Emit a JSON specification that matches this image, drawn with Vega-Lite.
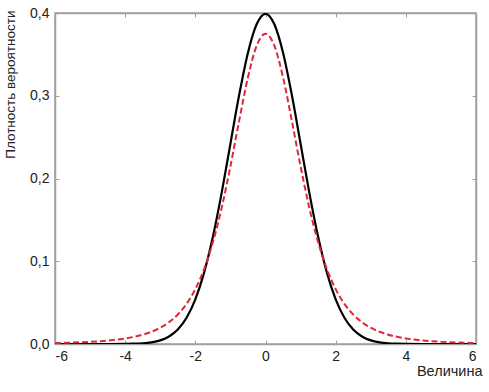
{
  "$schema": "https://vega.github.io/schema/vega-lite/v6.json",
  "autosize": {"type": "none"},
  "width": 421,
  "height": 331,
  "padding": {"left": 55, "top": 13, "right": 13, "bottom": 48},
  "background": "white",
  "config": {
    "view": {"stroke": "#a0a0a0", "strokeWidth": 1.5},
    "font": "Liberation Sans",
    "axis": {
      "grid": false,
      "domainColor": "#a0a0a0",
      "domainWidth": 1.5,
      "tickColor": "#a0a0a0",
      "tickSize": -4,
      "labelFont": "Liberation Sans",
      "labelFontSize": 14,
      "labelColor": "#222222",
      "titleFont": "Liberation Sans",
      "titleFontWeight": "normal",
      "titleColor": "#222222"
    }
  },
  "data": {"values": [
    {"x": -6, "n": 0.0, "t": 0.00119},
    {"x": -5.5, "n": 0.0, "t": 0.00175},
    {"x": -5, "n": 0.0000015, "t": 0.00265},
    {"x": -4.5, "n": 0.000016, "t": 0.00415},
    {"x": -4, "n": 0.000134, "t": 0.00671},
    {"x": -3.75, "n": 0.000353, "t": 0.00865},
    {"x": -3.5, "n": 0.000873, "t": 0.01128},
    {"x": -3.25, "n": 0.00203, "t": 0.01483},
    {"x": -3, "n": 0.00443, "t": 0.01969},
    {"x": -2.75, "n": 0.00909, "t": 0.02639},
    {"x": -2.5, "n": 0.01753, "t": 0.03567},
    {"x": -2.25, "n": 0.03174, "t": 0.04854},
    {"x": -2, "n": 0.05399, "t": 0.06629},
    {"x": -1.75, "n": 0.08628, "t": 0.09053},
    {"x": -1.5, "n": 0.12952, "t": 0.12288},
    {"x": -1.25, "n": 0.18265, "t": 0.16445},
    {"x": -1, "n": 0.24197, "t": 0.21466},
    {"x": -0.75, "n": 0.30114, "t": 0.26989},
    {"x": -0.5, "n": 0.35207, "t": 0.32226},
    {"x": -0.25, "n": 0.38667, "t": 0.36074},
    {"x": 0, "n": 0.39894, "t": 0.375},
    {"x": 0.25, "n": 0.38667, "t": 0.36074},
    {"x": 0.5, "n": 0.35207, "t": 0.32226},
    {"x": 0.75, "n": 0.30114, "t": 0.26989},
    {"x": 1, "n": 0.24197, "t": 0.21466},
    {"x": 1.25, "n": 0.18265, "t": 0.16445},
    {"x": 1.5, "n": 0.12952, "t": 0.12288},
    {"x": 1.75, "n": 0.08628, "t": 0.09053},
    {"x": 2, "n": 0.05399, "t": 0.06629},
    {"x": 2.25, "n": 0.03174, "t": 0.04854},
    {"x": 2.5, "n": 0.01753, "t": 0.03567},
    {"x": 2.75, "n": 0.00909, "t": 0.02639},
    {"x": 3, "n": 0.00443, "t": 0.01969},
    {"x": 3.25, "n": 0.00203, "t": 0.01483},
    {"x": 3.5, "n": 0.000873, "t": 0.01128},
    {"x": 3.75, "n": 0.000353, "t": 0.00865},
    {"x": 4, "n": 0.000134, "t": 0.00671},
    {"x": 4.5, "n": 0.000016, "t": 0.00415},
    {"x": 5, "n": 0.0000015, "t": 0.00265},
    {"x": 5.5, "n": 0.0, "t": 0.00175},
    {"x": 6, "n": 0.0, "t": 0.00119}
  ]},
  "layer": [
    {
      "mark": {"type": "line", "color": "black", "strokeWidth": 2.2, "interpolate": "monotone", "clip": true},
      "encoding": {
        "x": {"field": "x", "type": "quantitative", "scale": {"domain": [-6, 6], "nice": false},
          "axis": {"orient": "bottom", "values": [-6, -4, -2, 0, 2, 4, 6], "labelPadding": 9, "labelExpr": "replace(format(datum.value, 'd'), '−', '-')",
            "title": "Величина", "titleFontSize": 14.5, "titleAnchor": "end", "titlePadding": 1, "titleX": 427, "titleAlign": "right"}},
        "y": {"field": "n", "type": "quantitative", "scale": {"domain": [0, 0.4], "nice": false},
          "axis": {"orient": "left", "values": [0, 0.1, 0.2, 0.3, 0.4], "labelPadding": 10, "labelExpr": "replace(format(datum.value, '.1f'), '.', ',')",
            "title": "Плотность вероятности", "titleFontSize": 13.5, "titleAnchor": "end", "titleY": -3, "titleBaseline": "bottom", "titleAlign": "right", "titlePadding": 12}}
      }
    },
    {
      "mark": {"type": "line", "color": "#e0283c", "strokeWidth": 2, "strokeDash": [6, 3], "interpolate": "monotone", "clip": true},
      "encoding": {
        "x": {"field": "x", "type": "quantitative", "scale": {"domain": [-6, 6], "nice": false},
          "axis": {"orient": "top", "values": [-6, -4, -2, 0, 2, 4, 6], "labels": false, "title": null}},
        "y": {"field": "t", "type": "quantitative", "scale": {"domain": [0, 0.4], "nice": false},
          "axis": {"orient": "right", "values": [0, 0.1, 0.2, 0.3, 0.4], "labels": false, "title": null}}
      }
    }
  ],
  "resolve": {"axis": {"x": "independent", "y": "independent"}}
}
